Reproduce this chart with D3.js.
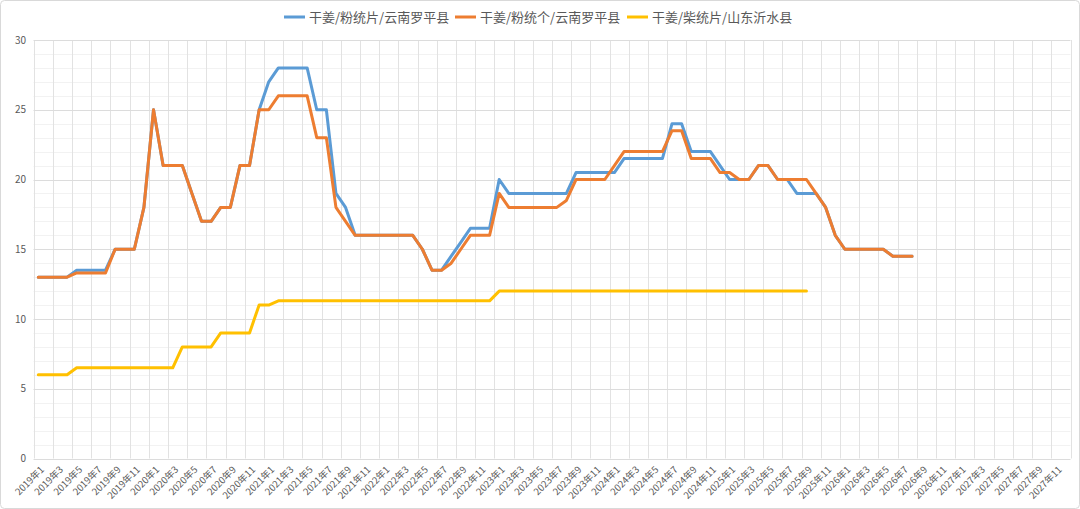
<!DOCTYPE html>
<html>
<head>
<meta charset="utf-8">
<script src="https://cdn.jsdelivr.net/npm/d3@7"></script>
<style>
  body { margin: 0; background: #fff; }
  svg { display: block; font-family: "Noto Sans CJK SC", "Noto Sans", sans-serif; }
</style>
</head>
<body>
<svg id="chart" width="1080" height="509"></svg>
<script>
// x categories: monthly, 2019-01 .. 2027-12
var years = [2019, 2020, 2021, 2022, 2023, 2024, 2025, 2026, 2027];
var monthNums = [1, 2, 3, 4, 5, 6, 7, 8, 9, 10, 11, 12];
var months = [];
years.forEach(function(y) {
    monthNums.forEach(function(m) { months.push(y + "年" + m); });
});

var seriesNames = ["干姜/粉统片/云南罗平县", "干姜/粉统个/云南罗平县", "干姜/柴统片/山东沂水县"];
var seriesColors = ["#5b9bd5", "#ed7d31", "#ffc000"];

// 2019-01 .. 2026-08
var fentongPian = [
    13, 13, 13, 13, 13.5, 13.5, 13.5, 13.5, 15, 15, 15, 18,
    25, 21, 21, 21, 19, 17, 17, 18, 18, 21, 21, 25,
    27, 28, 28, 28, 28, 25, 25, 19, 18, 16, 16, 16,
    16, 16, 16, 16, 15, 13.5, 13.5, 14.5, 15.5, 16.5, 16.5, 16.5,
    20, 19, 19, 19, 19, 19, 19, 19, 20.5, 20.5, 20.5, 20.5,
    20.5, 21.5, 21.5, 21.5, 21.5, 21.5, 24, 24, 22, 22, 22, 21,
    20, 20, 20, 21, 21, 20, 20, 19, 19, 19, 18, 16,
    15, 15, 15, 15, 15, 14.5, 14.5, 14.5
];

// 2019-01 .. 2026-08
var fentongGe = [
    13, 13, 13, 13, 13.3, 13.3, 13.3, 13.3, 15, 15, 15, 18,
    25, 21, 21, 21, 19, 17, 17, 18, 18, 21, 21, 25,
    25, 26, 26, 26, 26, 23, 23, 18, 17, 16, 16, 16,
    16, 16, 16, 16, 15, 13.5, 13.5, 14, 15, 16, 16, 16,
    19, 18, 18, 18, 18, 18, 18, 18.5, 20, 20, 20, 20,
    21, 22, 22, 22, 22, 22, 23.5, 23.5, 21.5, 21.5, 21.5, 20.5,
    20.5, 20, 20, 21, 21, 20, 20, 20, 20, 19, 18, 16,
    15, 15, 15, 15, 15, 14.5, 14.5, 14.5
];

// 2019-01 .. 2025-09
var chaitongPian = [
    6, 6, 6, 6, 6.5, 6.5, 6.5, 6.5, 6.5, 6.5, 6.5, 6.5,
    6.5, 6.5, 6.5, 8, 8, 8, 8, 9, 9, 9, 9, 11,
    11, 11.3, 11.3, 11.3, 11.3, 11.3, 11.3, 11.3, 11.3, 11.3, 11.3, 11.3,
    11.3, 11.3, 11.3, 11.3, 11.3, 11.3, 11.3, 11.3, 11.3, 11.3, 11.3, 11.3,
    12, 12, 12, 12, 12, 12, 12, 12, 12, 12, 12, 12,
    12, 12, 12, 12, 12, 12, 12, 12, 12, 12, 12, 12,
    12, 12, 12, 12, 12, 12, 12, 12, 12
];

var yTicks = [0, 5, 10, 15, 20, 25, 30];

var svg = d3.select("#chart");
var W = +svg.attr("width"), H = +svg.attr("height");
var plot = {left: 33.5, right: 1070.5, top: 40, bottom: 458.5};

svg.append("rect")
    .attr("x", 0.5).attr("y", 0.5)
    .attr("width", W - 1).attr("height", H - 1)
    .attr("rx", 4)
    .style("fill", "#fff")
    .style("stroke", "#d9d9d9");

var x = d3.scaleBand()
    .domain(months)
    .range([plot.left, plot.right]);

var y = d3.scaleLinear()
    .domain([0, 30])
    .range([plot.bottom, plot.top]);

var cx = function(i) { return x(months[i]) + x.bandwidth() / 2; };

// minor horizontal grid
svg.append("g")
    .selectAll("line")
    .data(d3.range(0, 31).filter(function(v) { return v % 5 !== 0; }))
    .enter().append("line")
    .attr("x1", plot.left).attr("x2", plot.right)
    .attr("y1", function(d) { return Math.round(y(d)) + 0.5; })
    .attr("y2", function(d) { return Math.round(y(d)) + 0.5; })
    .style("stroke", "#f2f2f2");

// vertical grid, every 2 months
svg.append("g")
    .selectAll("line")
    .data(d3.range(0, months.length + 1, 2))
    .enter().append("line")
    .attr("x1", function(k) { return Math.round(plot.left + k * x.step()) + 0.5; })
    .attr("x2", function(k) { return Math.round(plot.left + k * x.step()) + 0.5; })
    .attr("y1", plot.top).attr("y2", plot.bottom)
    .style("stroke", "#e2e2e2");

// major horizontal grid
svg.append("g")
    .selectAll("line")
    .data(yTicks)
    .enter().append("line")
    .attr("x1", plot.left).attr("x2", plot.right)
    .attr("y1", function(d) { return Math.round(y(d)) + 0.5; })
    .attr("y2", function(d) { return Math.round(y(d)) + 0.5; })
    .style("stroke", "#dcdcdc");

// y labels
svg.append("g")
    .selectAll("text")
    .data(yTicks)
    .enter().append("text")
    .attr("x", 26)
    .attr("y", function(d) { return y(d); })
    .attr("dy", "0.35em")
    .style("text-anchor", "end")
    .style("font-size", "10px")
    .style("fill", "#595959")
    .text(function(d) { return d; });

// x labels, every 2nd month
svg.append("g")
    .selectAll("text")
    .data(months.filter(function(d, i) { return i % 2 === 0; }))
    .enter().append("text")
    .attr("transform", function(d) {
        return "translate(" + (x(d) + x.bandwidth() / 2 + 4) + "," + 468 + ") rotate(-45)";
    })
    .attr("dy", "0.35em")
    .style("text-anchor", "end")
    .style("font-size", "9.5px")
    .style("fill", "#595959")
    .text(function(d) { return d; });

var line = d3.line()
    .x(function(d, i) { return cx(i); })
    .y(function(d) { return y(d); });

[fentongPian, fentongGe, chaitongPian].forEach(function(s, k) {
    svg.append("path")
        .datum(s)
        .attr("d", line)
        .style("fill", "none")
        .style("stroke", seriesColors[k])
        .style("stroke-width", 3)
        .style("stroke-linejoin", "round")
        .style("stroke-linecap", "round");
});

// legend
var legend = svg.append("g").attr("transform", "translate(284,17)");
var offsets = [0, 171, 343];
seriesNames.forEach(function(name, k) {
    var g = legend.append("g").attr("transform", "translate(" + offsets[k] + ",0)");
    g.append("line")
        .attr("x1", 0).attr("x2", 21)
        .style("stroke", seriesColors[k])
        .style("stroke-width", 3);
    g.append("text")
        .attr("x", 25)
        .attr("dy", "0.35em")
        .style("font-size", "13px")
        .style("fill", "#595959")
        .text(name);
});
</script>
</body>
</html>
